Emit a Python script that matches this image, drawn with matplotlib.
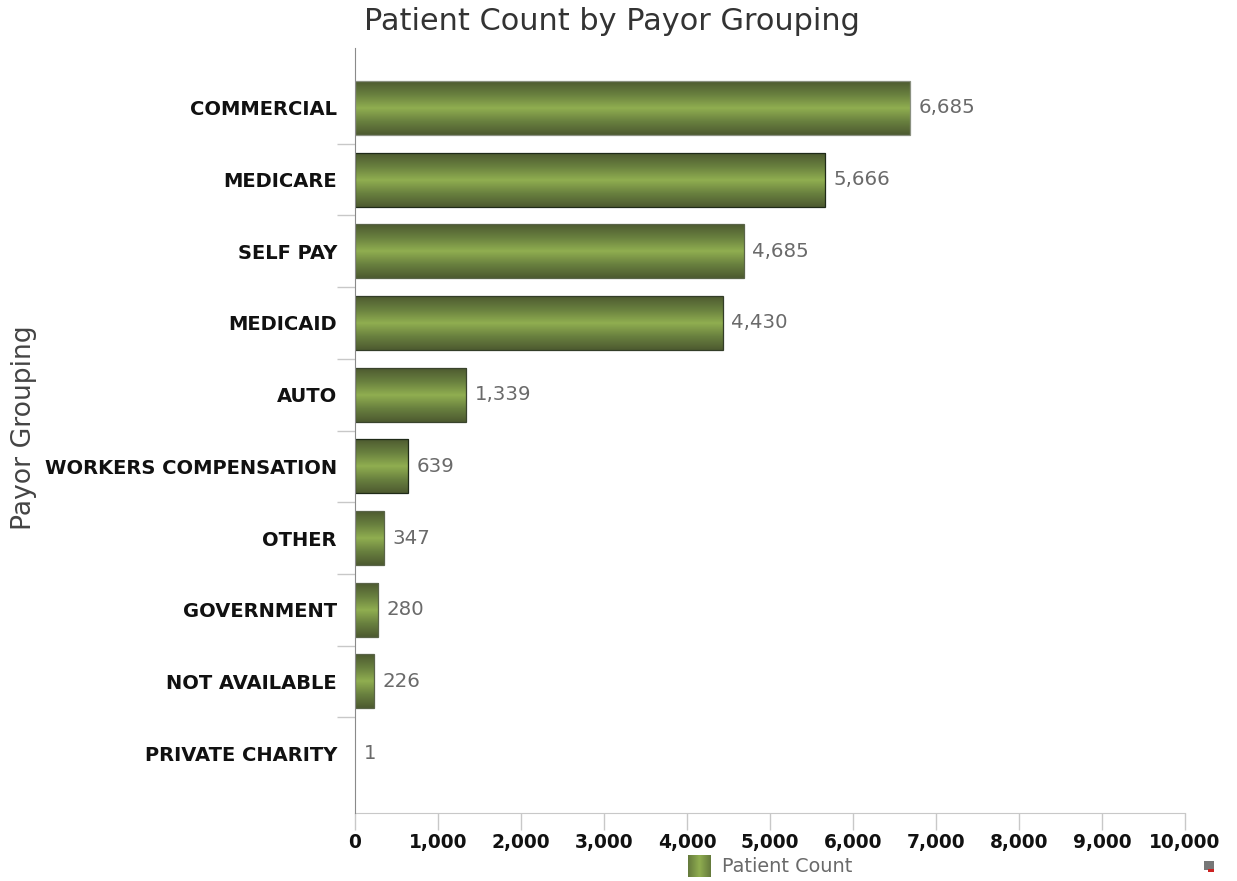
import matplotlib
matplotlib.use("Agg")
import matplotlib.pyplot as plt
import numpy as np
from matplotlib.colors import LinearSegmentedColormap
from matplotlib.patches import Rectangle
from matplotlib.ticker import FuncFormatter, MultipleLocator

categories = ["COMMERCIAL", "MEDICARE", "SELF PAY", "MEDICAID", "AUTO",
              "WORKERS COMPENSATION", "OTHER", "GOVERNMENT", "NOT AVAILABLE",
              "PRIVATE CHARITY"]
patient_count = [6685, 5666, 4685, 4430, 1339, 639, 347, 280, 226, 1]
edge_colors = ["#8a9080", "#1f2a18", "#5a6448", "#333d28", "#39432c",
               "#1f2a18", "#5a6448", "#5a6448", "#5a6448", "#ffffff"]

W, H = 1237, 881
BAR_H = 0.75
green = LinearSegmentedColormap.from_list(
    "bar", [(0, "#4d5a30"), (0.25, "#69803f"), (0.5, "#90ae50"),
            (0.75, "#69803f"), (1, "#4d5a30")])
swatch_green = LinearSegmentedColormap.from_list(
    "swatch", ["#64793c", "#90ae50", "#64793c"])
ramp = np.linspace(0, 1, 256)

plt.rcParams["font.family"] = ["DejaVu Sans"]
fig = plt.figure(figsize=(W / 100, H / 100), dpi=100)
ax = fig.add_axes([355 / W, 1 - 813 / H, 830 / W, 765 / H])

bars = ax.barh(range(len(categories)), patient_count, height=BAR_H,
               facecolor="none", edgecolor=edge_colors, linewidth=0.9, zorder=3)
for i, (bar, val) in enumerate(zip(bars, patient_count)):
    img = ax.imshow(ramp[:, None], cmap=green, vmin=0, vmax=1, aspect="auto",
                    interpolation="bilinear",
                    extent=[0, val, i + BAR_H / 2, i - BAR_H / 2], zorder=2)
    img.set_clip_path(bar)
    ax.annotate(f"{val:,}", (val, i), xytext=(6, 0), textcoords="offset points",
                va="center", ha="left", fontsize=14.2, color="#6a6a6a")

ax.set_xlim(0, 10000)
ax.set_ylim(9.837, -0.837)
ax.xaxis.set_major_locator(MultipleLocator(1000))
ax.xaxis.set_major_formatter(FuncFormatter(lambda v, _: f"{int(v):,}"))
ax.set_yticks(range(len(categories)))
ax.set_yticklabels(categories)
ax.set_yticks(np.arange(0.5, 9, 1), minor=True)

for s in ["top", "right"]:
    ax.spines[s].set_visible(False)
ax.spines["left"].set_color("#8a8a8a")
ax.spines["left"].set_zorder(6)
ax.spines["bottom"].set_color("#c8c8c8")
ax.tick_params(axis="y", which="major", length=0, pad=13)
ax.tick_params(axis="y", which="minor", length=13, color="#c8c8c8", width=1)
ax.tick_params(axis="x", length=12, color="#c8c8c8", width=1, pad=2.5)
for t in ax.get_yticklabels():
    t.set_fontweight("bold")
    t.set_fontsize(14)
    t.set_color("#111111")
for t in ax.get_xticklabels():
    t.set_fontweight("bold")
    t.set_fontsize(13.4)
    t.set_color("#111111")

fig.text(612 / W, 1 - 21 / H, "Patient Count by Payor Grouping", fontsize=21.9,
         color="#333333", ha="center", va="center")
fig.text(24 / W, 1 - 428 / H, "Payor Grouping", fontsize=19.2, color="#444444",
         rotation=90, ha="center", va="center")

# legend swatch runs sideways
sw = fig.add_axes([688 / W, 1 - 877 / H, 22 / W, 22 / H])
sw.imshow(ramp[None, :], cmap=swatch_green, vmin=0, vmax=1, aspect="auto",
          interpolation="bilinear")
sw.axis("off")
fig.text(722 / W, 1 - 866 / H, "Patient Count", fontsize=13.9, color="#6a6a6a",
         ha="left", va="center")

# little export icon in the corner
fig.add_artist(Rectangle((1204 / W, 1 - 870 / H), 10 / W, 9 / H, facecolor="#777777",
                         edgecolor="none", transform=fig.transFigure))
fig.add_artist(Rectangle((1208 / W, 1 - 872 / H), 6 / W, 3 / H, facecolor="#cc2222",
                         edgecolor="none", transform=fig.transFigure))

fig.savefig("out.png", dpi=100)
